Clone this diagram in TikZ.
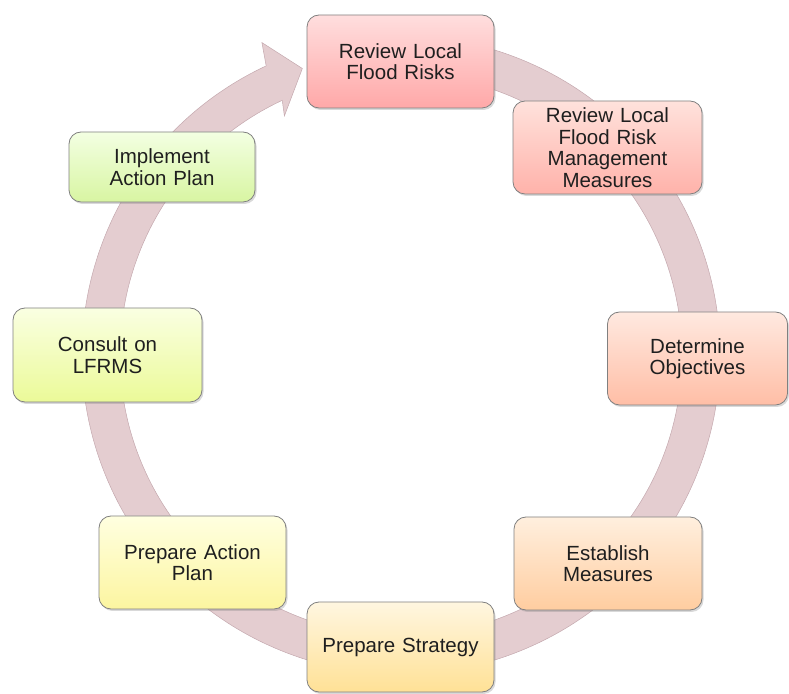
\documentclass[tikz,border=0pt]{standalone}
\usepackage{fontspec}
\setmainfont{Liberation Sans}
\usepackage{xcolor}
\usepackage{tikz}
\usetikzlibrary{positioning,shadows}

\definecolor{ringfill}{RGB}{228,205,208}
\definecolor{ringedge}{RGB}{196,168,174}
\definecolor{boxline}{RGB}{128,128,128}
\definecolor{rfA}{RGB}{255,222,222}\definecolor{rfB}{RGB}{255,168,168}
\definecolor{rmA}{RGB}{255,226,220}\definecolor{rmB}{RGB}{255,178,170}
\definecolor{doA}{RGB}{255,233,224}\definecolor{doB}{RGB}{255,190,166}
\definecolor{emA}{RGB}{255,239,222}\definecolor{emB}{RGB}{255,205,160}
\definecolor{psA}{RGB}{255,246,224}\definecolor{psB}{RGB}{255,225,150}
\definecolor{paA}{RGB}{255,255,224}\definecolor{paB}{RGB}{252,245,160}
\definecolor{clA}{RGB}{250,255,226}\definecolor{clB}{RGB}{235,250,152}
\definecolor{iaA}{RGB}{243,255,226}\definecolor{iaB}{RGB}{216,245,162}

\begin{document}
\begin{tikzpicture}[x=1pt,y=1pt,
  box/.style={draw=boxline,line width=0.8pt,rounded corners=12pt,inner sep=0pt,
    minimum height=93pt,align=center,text=black!88,
    font=\fontsize{20.5}{21.5}\selectfont,
    drop shadow={opacity=0.3,shadow xshift=1.5pt,shadow yshift=-2pt}}]
  \useasboundingbox (0,0) rectangle (789,693);

  % the cycle ring with its arrow head
  \begin{scope}[shift={(401,338)}]
    \filldraw[fill=ringfill,draw=ringedge,line width=0.5pt]
      (115:281) -- (116:266) -- (109:303) -- (114:342) -- (115:319)
      arc[start angle=115,end angle=445,radius=319]
      -- (85:281) arc[start angle=445,end angle=115,radius=281] -- cycle;
  \end{scope}

  \node[box,text width=187pt,top color=rfA,bottom color=rfB] (RF) at (400.5,631.5) {Review Local\\Flood Risks};
  \node[box,text width=189pt,top color=rmA,bottom color=rmB] (RM) at (607.5,545.5) {Review Local\\Flood Risk\\Management\\Measures};
  \node[box,text width=180pt,top color=doA,bottom color=doB] (DO) at (697.5,334.5) {Determine\\Objectives};
  \node[box,text width=188pt,top color=emA,bottom color=emB] (EM) at (608,129.5) {Establish\\Measures};
  \node[box,text width=187pt,minimum height=90pt,top color=psA,bottom color=psB] (PS) at (400.5,46) {Prepare Strategy};
  \node[box,text width=187pt,top color=paA,bottom color=paB] (PA) at (192.5,130.5) {Prepare Action\\Plan};
  \node[box,text width=189pt,minimum height=94pt,top color=clA,bottom color=clB] (CL) at (107.5,338) {Consult on\\LFRMS};
  \node[box,text width=186pt,minimum height=70pt,top color=iaA,bottom color=iaB] (IA) at (162,526) {Implement\\Action Plan};
\end{tikzpicture}
\end{document}
